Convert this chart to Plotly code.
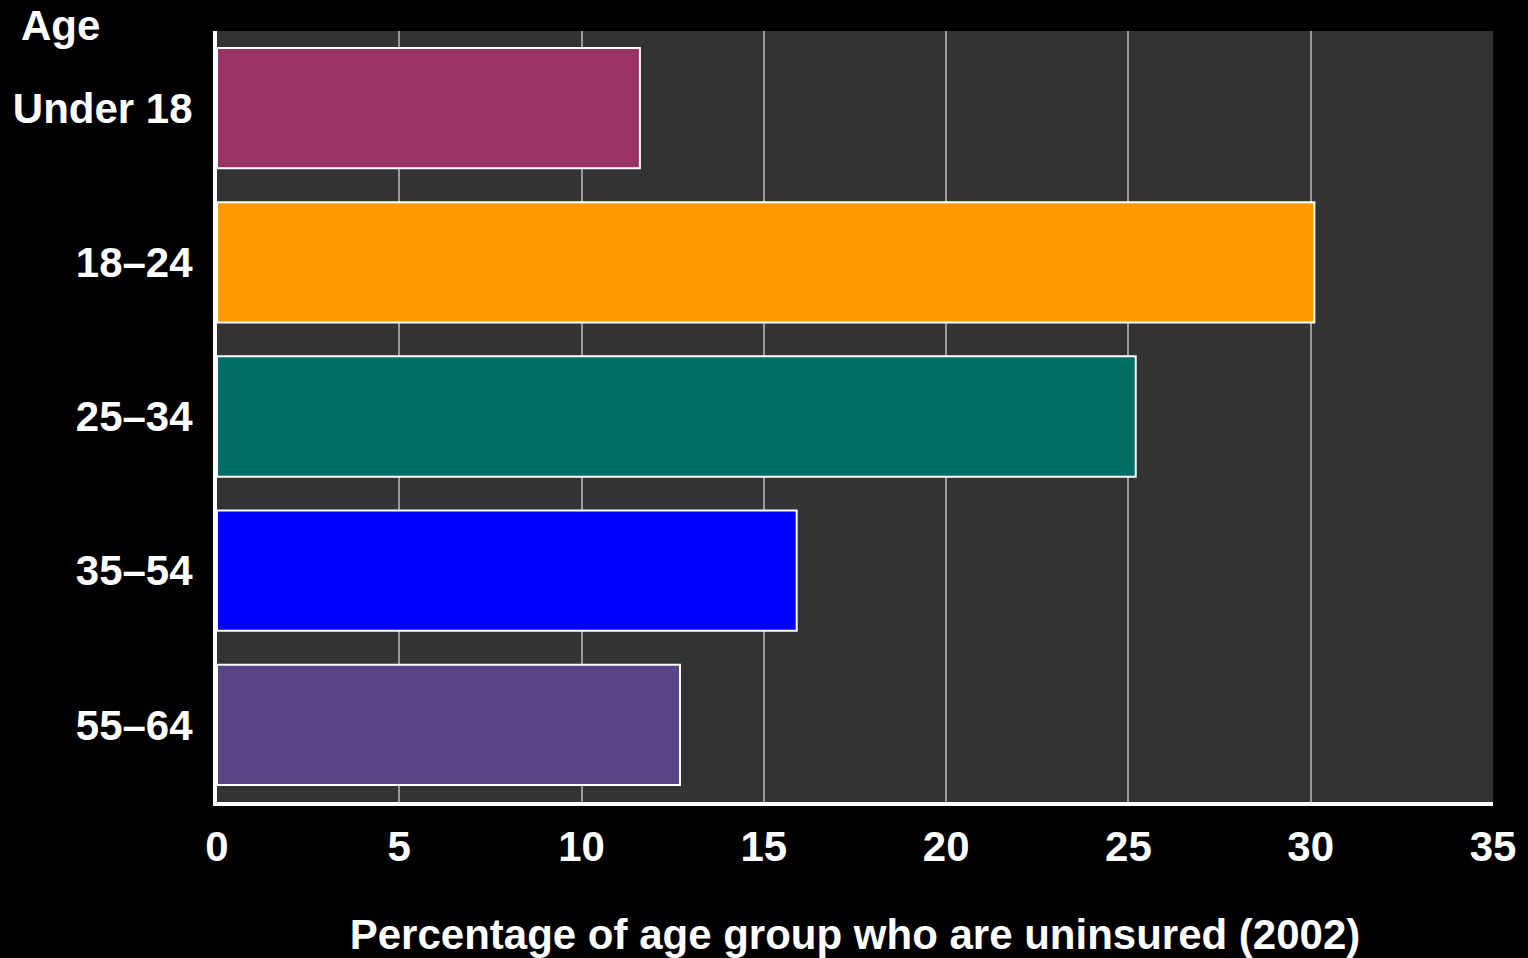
import plotly.graph_objects as go

categories = ["Under 18", "18\u201324", "25\u201334", "35\u201354", "55\u201364"]
values = [11.6, 30.1, 25.2, 15.9, 12.7]
colors = ["#993366", "#FF9900", "#006E66", "#0000FF", "#594486"]
x_ticks = [0, 5, 10, 15, 20, 25, 30, 35]

FONT = "Liberation Sans, Arial, sans-serif"
FS = 42

W, H = 1528, 958
ML, MR, MT, MB = 217, 35, 31, 156

fig = go.Figure(
    go.Bar(
        x=values,
        y=categories,
        orientation="h",
        marker=dict(color=colors, line=dict(color="white", width=2)),
        width=0.78,
    )
)

fig.update_layout(
    width=W,
    height=H,
    paper_bgcolor="black",
    plot_bgcolor="#333333",
    margin=dict(l=ML, r=MR, t=MT, b=MB, autoexpand=False),
    showlegend=False,
    font=dict(family=FONT, color="white", size=FS),
    annotations=[
        dict(
            text="<b>Age</b>",
            x=(19 - ML) / (W - ML - MR),
            y=1 + (MT - 25) / (H - MT - MB),
            xref="paper", yref="paper",
            showarrow=False, xanchor="left", yanchor="middle",
            font=dict(size=FS, color="white", family=FONT),
        )
    ],
)

fig.update_xaxes(
    range=[0, 35],
    tickvals=x_ticks,
    ticktext=[f"<b>{t}</b>" for t in x_ticks],
    showgrid=True,
    gridcolor="#9a9a9a",
    gridwidth=2,
    zeroline=False,
    showline=True,
    linecolor="white",
    linewidth=4,
    ticks="outside",
    ticklen=5,
    tickcolor="rgba(0,0,0,0)",
    automargin=False,
    tickfont=dict(size=FS, color="white", family=FONT),
    title=dict(
        text="<b>Percentage of age group who are uninsured (2002)</b>",
        font=dict(size=FS, color="white", family=FONT),
        standoff=57,
    ),
)
fig.update_yaxes(
    categoryorder="array",
    categoryarray=categories,
    autorange="reversed",
    tickvals=categories,
    ticktext=[f"<b>{c}</b>" for c in categories],
    showgrid=False,
    zeroline=False,
    showline=True,
    linecolor="white",
    linewidth=4,
    ticks="outside",
    ticklen=12,
    tickcolor="rgba(0,0,0,0)",
    automargin=False,
    tickfont=dict(size=FS, color="white", family=FONT),
)

fig.write_html(
    "out.html",
    config={"displayModeBar": False},
    post_script="document.body.style.margin='0';document.body.style.background='black';",
)
